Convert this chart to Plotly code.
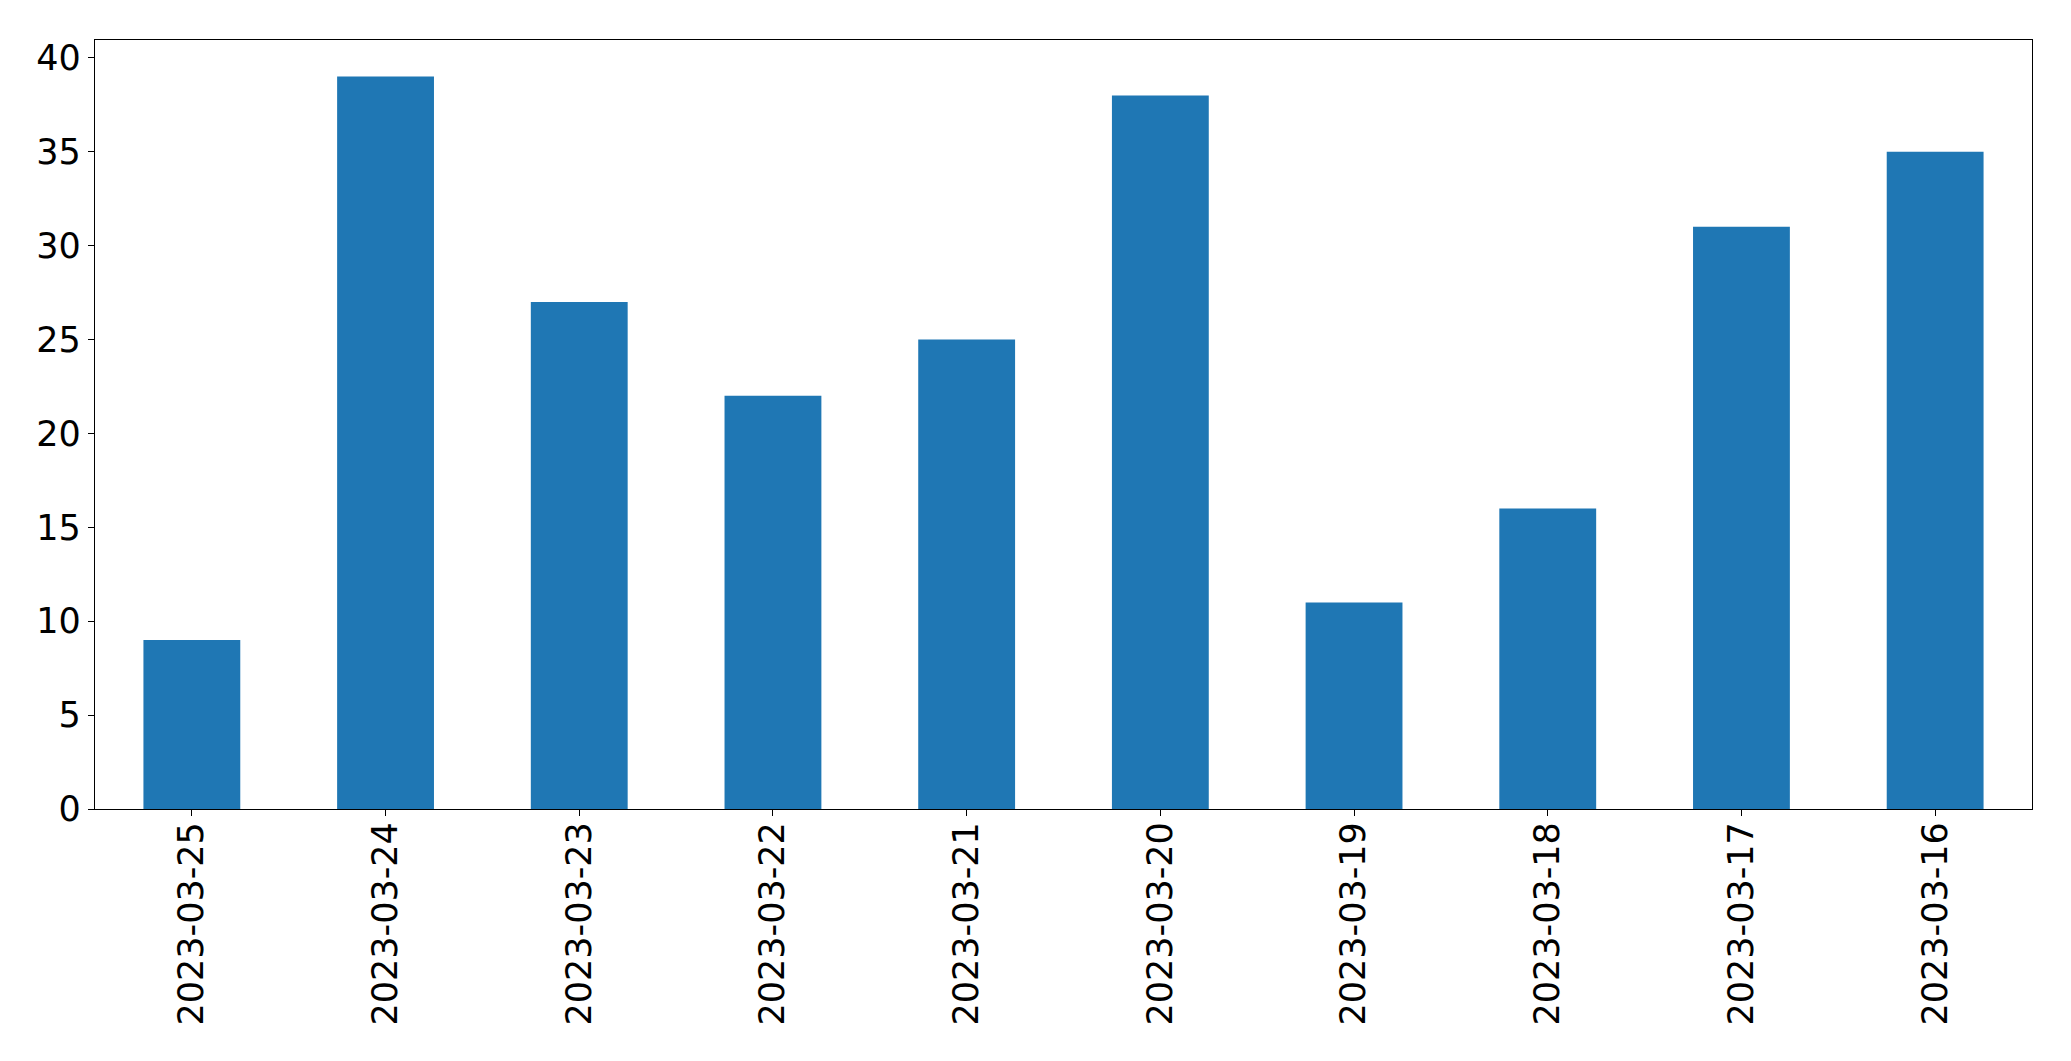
import plotly.graph_objects as go

dates = ["2023-03-25", "2023-03-24", "2023-03-23", "2023-03-22", "2023-03-21",
         "2023-03-20", "2023-03-19", "2023-03-18", "2023-03-17", "2023-03-16"]
counts = [9, 39, 27, 22, 25, 38, 11, 16, 31, 35]

fig = go.Figure(go.Bar(x=dates, y=counts, width=0.5, marker=dict(color="#1f77b4", line=dict(width=0))))

font = dict(family="DejaVu Sans", size=35, color="black")
fig.update_layout(
    width=2071, height=1061,
    margin=dict(l=95, r=39, t=40, b=252),
    plot_bgcolor="white", paper_bgcolor="white",
    showlegend=False,
    font=font,
)
fig.update_xaxes(
    type="category", range=[-0.5, 9.5], tickangle=-90,
    showline=True, linecolor="black", linewidth=1.3, mirror=True,
    ticks="outside", ticklen=6, tickwidth=1.3, tickcolor="black",
    showgrid=False, zeroline=False, tickfont=font, ticklabelstandoff=-8,
)
fig.update_yaxes(
    range=[0, 40.95], tickvals=[0, 5, 10, 15, 20, 25, 30, 35, 40],
    showline=True, linecolor="black", linewidth=1.3, mirror=True,
    ticks="outside", ticklen=6, tickwidth=1.3, tickcolor="black",
    showgrid=False, zeroline=False, tickfont=font,
)
fig.write_html("out.html", config={"displayModeBar": False},
               post_script="document.body.style.margin='0';document.body.style.overflow='hidden';")
